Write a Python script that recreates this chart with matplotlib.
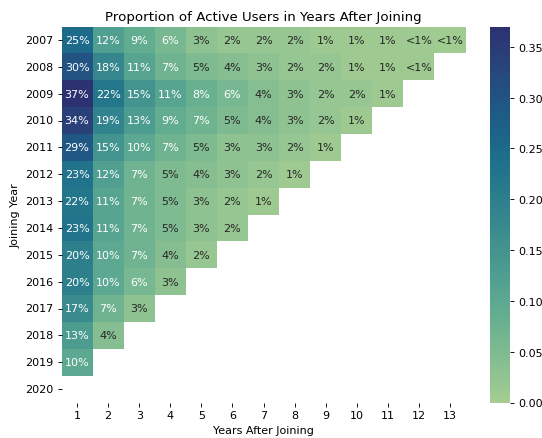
import matplotlib
matplotlib.use("Agg")
import matplotlib.pyplot as plt
import numpy as np
import pandas as pd
import seaborn as sns

# joining years (rows) and years after joining (columns)
years = list(range(2007, 2021))
after = list(range(1, 14))

# proportion of users still active, one list per joining year
r2007 = [0.25, 0.12, 0.09, 0.06, 0.03, 0.02, 0.02, 0.02, 0.01, 0.01, 0.01, 0.008, 0.007]
r2008 = [0.30, 0.18, 0.11, 0.07, 0.05, 0.04, 0.03, 0.02, 0.02, 0.01, 0.01, 0.009]
r2009 = [0.37, 0.22, 0.15, 0.11, 0.08, 0.06, 0.04, 0.03, 0.02, 0.02, 0.01]
r2010 = [0.34, 0.19, 0.13, 0.09, 0.07, 0.05, 0.04, 0.03, 0.02, 0.01]
r2011 = [0.29, 0.15, 0.10, 0.07, 0.05, 0.03, 0.03, 0.02, 0.01]
r2012 = [0.23, 0.12, 0.07, 0.05, 0.04, 0.03, 0.02, 0.01]
r2013 = [0.22, 0.11, 0.07, 0.05, 0.03, 0.02, 0.01]
r2014 = [0.23, 0.11, 0.07, 0.05, 0.03, 0.02]
r2015 = [0.20, 0.10, 0.07, 0.04, 0.02]
r2016 = [0.20, 0.10, 0.06, 0.03]
r2017 = [0.17, 0.07, 0.03]
r2018 = [0.13, 0.04]
r2019 = [0.10]
r2020 = []

rows = [r2007, r2008, r2009, r2010, r2011, r2012, r2013,
        r2014, r2015, r2016, r2017, r2018, r2019, r2020]

mat = np.full((len(years), len(after)), np.nan)
for i, r in enumerate(rows):
    mat[i, :len(r)] = r
df = pd.DataFrame(mat, index=years, columns=after)

# labels: percent, or "<1%" for tiny values
labels = df.map(lambda v: "" if np.isnan(v) else ("<1%" if v < 0.01 else f"{v:.0%}"))

s = 0.8  # picture looks like a scaled-down render
plt.rcParams["font.size"] = 10 * s
for a in ("xtick", "ytick"):
    plt.rcParams[a + ".major.size"] = 3.5 * s
    plt.rcParams[a + ".major.width"] = 0.8 * s
    plt.rcParams[a + ".major.pad"] = 3.5 * s

fig = plt.figure(figsize=(5.42, 4.39), dpi=100)
ax = fig.add_axes([61.5/542, 1 - 403.5/439, 404/542, 376/439])
cax = fig.add_axes([490/542, 1 - 403.5/439, 20/542, 376/439])

sns.heatmap(df, annot=labels, fmt="", cmap="crest", vmin=0, ax=ax, cbar_ax=cax,
            annot_kws={"fontsize": 10 * s})
ax.set_title("Proportion of Active Users in Years After Joining", pad=6 * s)
ax.set_xlabel("Years After Joining", labelpad=4 * s)
ax.set_ylabel("Joining Year", labelpad=4 * s)
ax.set_yticklabels(years, rotation=0)
cax.yaxis.set_major_formatter(matplotlib.ticker.FormatStrFormatter("%.2f"))

fig.savefig("out.png", dpi=100)
